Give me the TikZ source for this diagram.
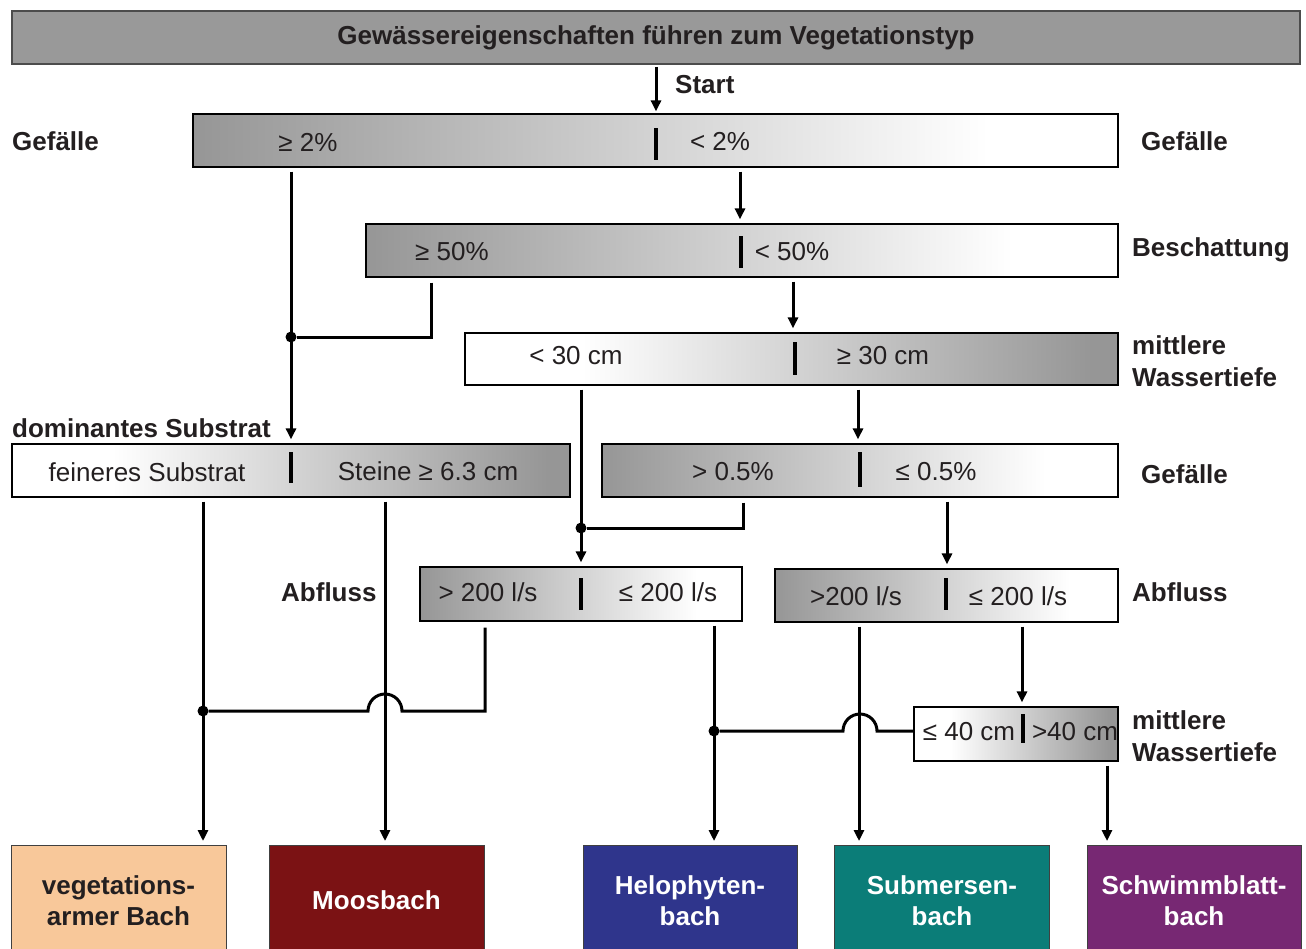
\documentclass[tikz,border=0pt]{standalone}
\usepackage{fontspec}
\setmainfont{Liberation Sans}
\usetikzlibrary{arrows.meta}
\definecolor{bgray}{RGB}{150,150,150}
\definecolor{tgray}{RGB}{153,153,153}
\definecolor{txt}{RGB}{35,31,32}
\definecolor{peach}{RGB}{248,200,154}
\definecolor{mred}{RGB}{123,18,20}
\definecolor{hblue}{RGB}{47,53,140}
\definecolor{steal}{RGB}{11,125,120}
\definecolor{spurp}{RGB}{119,40,115}
\pgfdeclarehorizontalshading{gtow}{100bp}{color(0bp)=(bgray); color(25bp)=(bgray); color(68bp)=(white); color(100bp)=(white)}
\pgfdeclarehorizontalshading{wtog}{100bp}{color(0bp)=(white); color(34bp)=(white); color(73bp)=(bgray); color(100bp)=(bgray)}
\begin{document}
\begin{tikzpicture}[x=1pt,y=-1pt,
  font=\fontsize{26}{32}\selectfont, text=txt,
  box/.style={draw=black, line width=1.2pt, minimum height=53pt, inner sep=0pt, shade},
  lbl/.style={font=\fontsize{26}{32}\selectfont\bfseries, anchor=west, align=left, inner sep=0pt},
  opt/.style={inner sep=0pt},
  con/.style={line width=3pt, draw=black},
  arr/.style={con, -{Triangle[length=11pt,width=10pt]}, shorten <=4pt, shorten >=4pt},
  divider/.style={line width=4pt, draw=black},
  dot/.style={circle, fill=black, inner sep=0pt, minimum size=11pt},
  result/.style={draw=black!75, line width=1pt, minimum width=215pt, minimum height=110pt, anchor=north,
    font=\fontsize{26}{31}\selectfont\bfseries, align=center, text=white}
]
\useasboundingbox (0,0) rectangle (1306,948);

% title
\node[draw=black!70, line width=1.5pt, fill=tgray, minimum width=1288pt, minimum height=53pt,
      font=\fontsize{26}{32}\selectfont\bfseries] (title) at (656,37.5) {Gewässereigenschaften führen zum Vegetationstyp};
\node[lbl] (start) at (675,85) {Start};

% decision boxes
\node[box, shading=gtow, minimum width=925pt] (b1) at (655.5,140.5) {};
\node[box, shading=gtow, minimum width=752pt] (b2) at (742,250.5) {};
\node[box, shading=wtog, minimum width=653pt, minimum height=52pt] (b3) at (791.5,359) {};
\node[box, shading=wtog, minimum width=558pt] (b4) at (291,470.5) {};
\node[box, shading=gtow, minimum width=516pt] (b5) at (860,470.5) {};
\node[box, shading=gtow, minimum width=322pt, minimum height=54pt] (b6) at (581,594) {};
\node[box, shading=gtow, minimum width=343pt] (b7) at (946.5,595.5) {};
\node[box, shading=wtog, minimum width=204pt, minimum height=54pt] (b8) at (1016,734) {};

% dividers
\draw[divider] (656,128) -- (656,160);
\draw[divider] (741,236) -- (741,268);
\draw[divider] (795,342) -- (795,375);
\draw[divider] (291,452) -- (291,483);
\draw[divider] (860,452) -- (860,487);
\draw[divider] (581,578) -- (581,610);
\draw[divider] (946,578) -- (946,610);
\draw[divider] (1023,714) -- (1023,743);

% option texts
\node[opt] (o1a) at (308,142) {≥ 2\%};
\node[opt] (o1b) at (720,141) {< 2\%};
\node[opt] (o2a) at (452,252) {≥ 50\%};
\node[opt] (o2b) at (792,252) {< 50\%};
\node[opt] (o3a) at (576,356) {< 30 cm};
\node[opt] (o3b) at (883,356) {≥ 30 cm};
\node[opt] (o4a) at (147,472) {feineres Substrat};
\node[opt] (o4b) at (428,471) {Steine ≥ 6.3 cm};
\node[opt] (o5a) at (733,472) {> 0.5\%};
\node[opt] (o5b) at (936,472) {≤ 0.5\%};
\node[opt] (o6a) at (488,592) {> 200 l/s};
\node[opt] (o6b) at (668,592) {≤ 200 l/s};
\node[opt] (o7a) at (856,596) {>200 l/s};
\node[opt] (o7b) at (1018,596) {≤ 200 l/s};
\node[opt] (o8a) at (969,732) {≤ 40 cm};
\node[opt] (o8b) at (1075,732) {>40 cm};

% side labels
\node[lbl] (l1) at (12,141) {Gefälle};
\node[lbl] (l2) at (1141,141) {Gefälle};
\node[lbl] (l3) at (1132,250) {Beschattung};
\node[lbl] (l4) at (1132,361) {mittlere\\Wassertiefe};
\node[lbl] (l5) at (12,428) {dominantes Substrat};
\node[lbl] (l6) at (1141,474) {Gefälle};
\node[lbl] (l7) at (281,592) {Abfluss};
\node[lbl] (l8) at (1132,592) {Abfluss};
\node[lbl] (l9) at (1132,736) {mittlere\\Wassertiefe};

% result boxes
\node[result, fill=peach, text=txt] (r1) at (118.5,845) {vegetations-\\armer Bach};
\node[result, fill=mred] (r2) at (376.5,845) {Moosbach};
\node[result, fill=hblue, minimum width=214pt] (r3) at (690,845) {Helophyten-\\bach};
\node[result, fill=steal] (r4) at (942,845) {Submersen-\\bach};
\node[result, fill=spurp, minimum width=214pt] (r5) at (1194,845) {Schwimmblatt-\\bach};

% guide coordinates
\foreach \x in {203,291,385,431,485,581,656,714,740,743,793,858,859,947,1022,1107}
  \coordinate (X\x) at (\x,0);
\coordinate (hop1r) at (402,711);
\coordinate (hop2r) at (877,731);

% connectors
\draw[arr, shorten <=2pt, shorten >=2pt] (title.south -| X656) -- (b1.north -| X656);
\draw[arr] (b1.south -| X291) -- (b4.north -| X291);
\draw[arr] (b1.south -| X740) -- (b2.north -| X740);
\draw[arr] (b2.south -| X793) -- (b3.north -| X793);
\draw[arr] (b3.south -| X581) -- (b6.north -| X581);
\draw[arr] (b3.south -| X858) -- (b5.north -| X858);
\draw[arr] (b4.south -| X203) -- (r1.north -| X203);
\draw[arr] (b4.south -| X385) -- (r2.north -| X385);
\draw[arr] (b5.south -| X947) -- (b7.north -| X947);
\draw[arr] (b6.south -| X714) -- (r3.north -| X714);
\draw[arr] (b7.south -| X859) -- (r4.north -| X859);
\draw[arr] (b7.south -| X1022) -- (b8.north -| X1022);
\draw[arr] (b8.south -| X1107) -- (r5.north -| X1107);

\node[dot] (j1) at (291,337) {};
\node[dot] (j2) at (581,528) {};
\node[dot] (j3) at (203,711) {};
\node[dot] (j4) at (714,731) {};

\draw[con, shorten <=5pt] (b2.south -| X431) |- (j1);
\draw[con, shorten <=5pt] (b5.south -| X743) |- (j2);
\draw[con, shorten <=6pt] (b6.south -| X485) |- (hop1r) arc[start angle=0, end angle=-180, radius=17] -- (j3);
\draw[con] (j4 -| b8.west) -- (hop2r) arc[start angle=0, end angle=-180, radius=17] -- (j4);
\end{tikzpicture}
\end{document}
